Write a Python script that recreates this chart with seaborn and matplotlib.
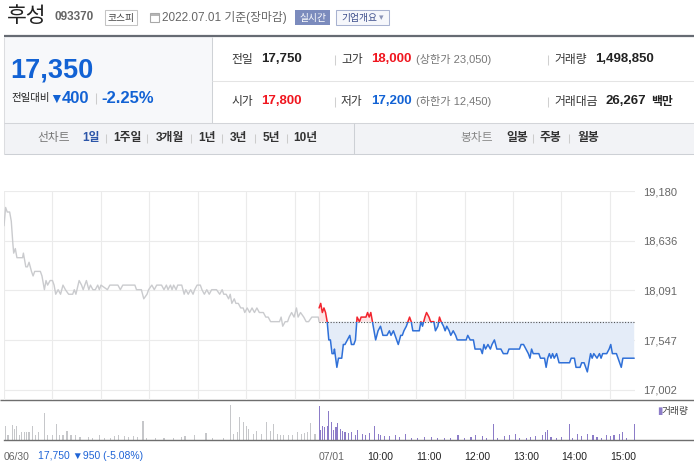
import numpy as np
import matplotlib
matplotlib.use("Agg")
import matplotlib.pyplot as plt
from matplotlib.patches import Rectangle
import seaborn as sns

# 06/30 intraday price (minutes since 09:00)
day1_min = [0, 2, 4, 7, 9, 11, 12, 14, 16, 23, 24, 27, 29, 31, 34, 36, 38, 45, 47, 50,
            52, 54, 57, 60, 62, 64, 67, 70, 73, 76, 80, 85, 87, 89, 93, 96, 98, 102, 105, 107,
            110, 113, 116, 118, 120, 128, 131, 141, 144, 147, 162, 164, 170, 173, 177, 179, 183, 186, 189, 195,
            198, 201, 203, 206, 208, 210, 213, 215, 220, 223, 225, 228, 231, 234, 236, 239, 243, 245, 248, 251,
            254, 257, 263, 267, 270, 272, 275, 278, 280, 282, 285, 287, 290, 293, 296, 298, 301, 304, 307, 310,
            313, 316, 321, 324, 327, 330, 336, 341, 343, 345, 348, 351, 353, 356, 359, 362, 364, 367, 371, 374,
            377, 381, 389, 390]
day1_price = [18800, 19000, 18950, 18950, 18850, 18600, 18500, 18550, 18450, 18450, 18500, 18350, 18350, 18400, 18300, 18250, 18300, 18300, 18250, 18100,
              18200, 18150, 18200, 18200, 18150, 18050, 18100, 18050, 18150, 18100, 18050, 18050, 18100, 18050, 18200, 18150, 18100, 18200, 18100, 18150,
              18100, 18100, 18150, 18100, 18150, 18100, 18150, 18150, 18100, 18150, 18150, 18100, 18100, 18000, 18050, 18100, 18150, 18100, 18150, 18150,
              18100, 18150, 18100, 18150, 18100, 18150, 18100, 18150, 18150, 18050, 18100, 18050, 18100, 18050, 18100, 18150, 18150, 18100, 18050, 18100,
              18050, 18100, 18100, 18050, 18100, 18050, 18050, 18000, 18050, 17950, 18000, 17950, 17950, 17900, 17900, 17850, 17900, 17850, 17900, 17850,
              17900, 17850, 17850, 17800, 17800, 17750, 17750, 17750, 17800, 17700, 17750, 17750, 17800, 17850, 17800, 17900, 17800, 17850, 17800, 17750,
              17750, 17800, 17800, 17750]

# 07/01 intraday price (minutes since 09:00)
day2_min = [0, 2, 4, 6, 8, 10, 12, 14, 16, 18, 19, 22, 24, 28, 30, 32, 35, 38, 40, 43,
            45, 47, 50, 52, 55, 58, 60, 62, 64, 66, 68, 70, 73, 76, 79, 84, 87, 89, 92, 94,
            96, 98, 101, 103, 105, 108, 110, 112, 114, 116, 124, 126, 128, 131, 133, 136, 138, 142, 144, 147,
            149, 151, 154, 156, 158, 161, 163, 166, 169, 171, 182, 184, 187, 191, 193, 200, 202, 204, 206, 209,
            212, 214, 217, 220, 225, 228, 233, 235, 248, 250, 253, 256, 259, 261, 263, 265, 272, 274, 279, 281,
            283, 285, 287, 289, 291, 294, 297, 310, 312, 316, 318, 323, 325, 328, 330, 332, 334, 336, 338, 340,
            344, 347, 349, 351, 356, 359, 361, 363, 368, 370, 372, 374, 376, 390]
day2_price = [17900, 17950, 17850, 17900, 17850, 17750, 17550, 17550, 17400, 17400, 17450, 17250, 17350, 17350, 17500, 17500, 17550, 17600, 17500, 17500,
              17550, 17800, 17750, 17800, 17800, 17800, 17850, 17800, 17850, 17750, 17650, 17550, 17650, 17700, 17600, 17600, 17650, 17600, 17650, 17600,
              17550, 17500, 17600, 17600, 17650, 17700, 17750, 17800, 17750, 17650, 17650, 17750, 17700, 17800, 17850, 17800, 17750, 17750, 17650, 17700,
              17800, 17750, 17700, 17650, 17700, 17650, 17600, 17650, 17600, 17550, 17550, 17600, 17550, 17550, 17450, 17450, 17400, 17500, 17450, 17500,
              17450, 17500, 17550, 17450, 17450, 17400, 17400, 17450, 17450, 17500, 17500, 17450, 17400, 17350, 17450, 17400, 17400, 17350, 17350, 17250,
              17350, 17400, 17350, 17400, 17350, 17400, 17300, 17300, 17350, 17350, 17250, 17250, 17300, 17300, 17250, 17200, 17300, 17400, 17350, 17400,
              17350, 17400, 17350, 17400, 17400, 17450, 17500, 17400, 17400, 17350, 17300, 17250, 17350, 17350]

prev_close = 17750

# volume (shares)
vol1_min = [2, 5, 10, 13, 16, 19, 22, 25, 28, 31, 35, 39, 43, 50, 54, 60, 65, 69, 73, 78,
            83, 88, 94, 105, 110, 118, 124, 132, 137, 142, 149, 154, 160, 165, 172, 176, 187, 198, 210, 220,
            224, 236, 250, 258, 272, 280, 284, 289, 292, 296, 300, 303, 309, 313, 319, 325, 330, 334, 338, 342,
            346, 352, 357, 363, 368, 372, 376, 379, 385]
vol1 = [18000, 6000, 18800, 14000, 18000, 6000, 10000, 10000, 10000, 10000, 18000, 6800, 10000, 34000, 6800, 6800, 20000, 6000, 6000, 10800,
        6800, 6000, 4000, 4000, 2800, 6800, 2800, 2800, 5200, 6000, 5200, 4000, 4800, 4000, 24000, 2000, 2800, 2000, 2800, 4000,
        5200, 6000, 8800, 2800, 2800, 44000, 8000, 10000, 29200, 22000, 18000, 14000, 8000, 10800, 8000, 22000, 10800, 20000, 8000, 6800,
        6000, 6800, 6000, 10000, 8000, 9200, 10000, 21200, 8000]
vol2_min = [0, 2, 4, 7, 10, 12, 15, 18, 21, 23, 26, 29, 32, 36, 40, 45, 48, 54, 57, 62,
            69, 73, 76, 81, 87, 95, 100, 107, 114, 122, 130, 139, 147, 155, 163, 172, 180, 188, 194, 202,
            207, 216, 221, 229, 236, 243, 248, 257, 262, 268, 276, 280, 283, 287, 294, 300, 310, 314, 320, 325,
            332, 339, 344, 350, 356, 361, 365, 372, 376, 380, 390]
vol2 = [42000, 12800, 18000, 16000, 18000, 36000, 22000, 12000, 16000, 20800, 13200, 10800, 10000, 9200, 10000, 6800, 12000, 8000, 6800, 9200,
        18000, 8000, 6000, 5200, 4800, 6000, 4000, 8000, 2800, 2800, 4000, 3200, 2800, 2000, 2000, 6000, 2800, 4000, 6800, 5200,
        2000, 20000, 2800, 5200, 6000, 8000, 2000, 2800, 4000, 5200, 6800, 10000, 12000, 4000, 2800, 4000, 19600, 2800, 8000, 5200,
        8000, 6000, 4000, 2800, 6000, 5200, 6000, 8000, 10000, 2800, 19600]

y_ticks = [17002, 17547, 18091, 18636, 19180]
time_labels = ["07/01", "10:00", "11:00", "12:00", "13:00", "14:00", "15:00"]

sns.set_style("white")
plt.rcParams['font.family'] = ['Liberation Sans', 'Noto Sans CJK KR', 'DejaVu Sans']

W, H = 694, 475
fig = plt.figure(figsize=(W / 100, H / 100), dpi=100)

# page layer in pixel coordinates
bg = fig.add_axes([0, 0, 1, 1])
bg.set_xlim(0, W)
bg.set_ylim(H, 0)
bg.set_axis_off()


def box(x0, y0, x1, y1, fc='none', ec='none', lw=0.75):
    bg.add_patch(Rectangle((x0, y0), x1 - x0, y1 - y0, facecolor=fc, edgecolor=ec, linewidth=lw))


def hl(y, x0, x1, c, lw=0.75):
    bg.plot([x0, x1], [y, y], color=c, lw=lw, solid_capstyle='butt')


def vl(x, y0, y1, c, lw=0.75):
    bg.plot([x, x], [y0, y1], color=c, lw=lw, solid_capstyle='butt')


def txt(x, y, s, fs, c='#333333', bold=False, ha='left'):
    bg.text(x, y, s, fontsize=fs, color=c, ha=ha, va='center',
            fontweight='bold' if bold else 'normal')


blue = '#1262d4'
red = '#f0161f'

# title row
txt(7, 16, "후성", 15.5, '#222222')
txt(55, 17.5, "093370", 8.5, '#666666', bold=True)
box(105, 10, 137, 25, fc='white', ec='#c4c4c4')
txt(121, 17.5, "코스피", 7, '#444444', ha='center')
box(150.5, 12.5, 159, 22, ec='#a8a8a8', lw=0.8)
hl(14.5, 150.5, 159, '#a8a8a8', lw=1.2)
txt(162, 17.5, "2022.07.01 기준(장마감)", 8.5, '#666666')
box(295, 10, 330, 25, fc='#7b8bbd')
txt(312.5, 17.5, "실시간", 7, 'white', ha='center')
box(336, 10, 389, 25, fc='#f6f7fb', ec='#a8b2d0')
txt(341, 17.5, "기업개요", 7, '#3b4c8a')
txt(379, 17.5, "▾", 6.5, '#8a94b8')
hl(35.5, 4, 694, '#666b73', lw=1.6)

# price box
box(4, 37, 212, 123, fc='#f7f8fa')
vl(212, 37, 123, '#cfd2d6')
vl(4.3, 37, 154, '#dcdde0')
txt(10, 70, "17,350", 19.5, blue, bold=True)
txt(11, 98.5, "전일대비", 7.5, '#222222')
txt(49, 98.5, "▼", 10, blue)
txt(62, 98.5, "400", 12, blue, bold=True)
vl(96, 93, 104, '#cccccc')
txt(101, 98.5, "-2.25%", 12, blue, bold=True)

# stats table
hl(80.5, 212, 694, '#e4e4e4')
for yy, rows in [(59.5, [("전일", "17,750", '#222222', 231, 261), ("고가", "18,000", red, 341, 371), ("거래량", "1,498,850", '#222222', 554, 595)]),
                 (101.5, [("시가", "17,800", red, 231, 261), ("저가", "17,200", blue, 341, 371), ("거래대금", "26,267", '#222222', 554, 606)])]:
    for lab, val, col, xl, xv in rows:
        txt(xl, yy, lab, 8.5, '#333333')
        txt(xv, yy, val, 9.5, col, bold=True)
    vl(335, yy - 5, yy + 5, '#d0d0d0')
    vl(548, yy - 5, yy + 5, '#d0d0d0')
txt(416, 59.5, "(상한가 23,050)", 8, '#777777')
txt(416, 101.5, "(하한가 12,450)", 8, '#777777')
txt(651, 101.5, "백만", 8.5, '#222222', bold=True)

# period tabs
box(4, 123, 694, 154, fc='#f2f3f6')
hl(123, 4, 694, '#d3d5d9')
hl(154, 4, 694, '#cdd0d5')
vl(354.5, 123, 154, '#cdd0d5')
txt(37, 138.5, "선차트", 8.5, '#777777')
tabs = [("1일", 82), ("1주일", 113), ("3개월", 156), ("1년", 198), ("3년", 230), ("5년", 263), ("10년", 293)]
for i, (lab, xx) in enumerate(tabs):
    txt(xx, 138.5, lab, 8.5, '#2c55a8' if i == 0 else '#333333', bold=True)
for xx in [106, 147, 191, 222, 255, 287]:
    vl(xx, 134, 143, '#cccccc')
txt(460, 138.5, "봉차트", 8.5, '#888888')
for lab, xx in [("일봉", 506), ("주봉", 540), ("월봉", 577)]:
    txt(xx, 138.5, lab, 8.5, '#333333', bold=True)
for xx in [533, 569]:
    vl(xx, 134, 143, '#cccccc')

# main price chart
ax = fig.add_axes([4 / W, 1 - 400 / H, 631 / W, 209 / H])
ax.patch.set_alpha(0)
t1 = np.array(day1_min)
p1 = np.array(day1_price)
t2 = np.array(day2_min) + 390
p2 = np.array(day2_price)

ax.fill_between(t2, p2, prev_close, where=p2 <= prev_close, interpolate=True, color='#e4ecf8', lw=0)
ax.fill_between(t2, p2, prev_close, where=p2 >= prev_close, interpolate=True, color='#fde4e4', lw=0)
ax.hlines(prev_close, 390, 781, colors='#555555', linestyles=(0, (1, 1.5)), lw=0.8)

sns.lineplot(x=t1, y=p1, ax=ax, color='#cacbce', lw=1.0, estimator=None)
sns.lineplot(x=t2, y=p2, ax=ax, color='#2f70d8', lw=1.1, estimator=None)
ax.lines[-1].set_clip_path(Rectangle((380, 15000), 420, prev_close - 15000, transform=ax.transData))
sns.lineplot(x=t2, y=p2, ax=ax, color='#f2252e', lw=1.1, estimator=None)
ax.lines[-1].set_clip_path(Rectangle((380, prev_close), 420, 5000, transform=ax.transData))

ax.set_xlim(0, 781)
ax.set_ylim(16892.5, 19180)
ax.set_xticks([0, 60, 120, 180, 240, 300, 360, 390, 450, 510, 570, 630, 690, 750])
ax.set_xticklabels([])
ax.yaxis.tick_right()
ax.set_yticks(y_ticks)
ax.set_yticklabels([f"{v:,}" for v in y_ticks])
ax.tick_params(axis='both', length=0)
ax.tick_params(axis='y', pad=6, labelsize=8, labelcolor='#666666')
ax.grid(True, color='#ebebeb', lw=0.8)
ax.set_axisbelow(True)
for s in ax.spines.values():
    s.set_visible(False)
ax.set_xlabel("")
ax.set_ylabel("")

hl(400, 0, 694, '#6e6e6e', lw=1.0)

# volume panel
vax = fig.add_axes([4 / W, 1 - 440 / H, 690 / W, 40 / H])
vax.patch.set_alpha(0)
vax.bar(np.array(vol1_min), vol1, width=1.4, color='#c6c7ca', lw=0)
vax.bar(np.array(vol2_min) + 390, vol2, width=1.4, color='#8c7cc8', lw=0)
vax.set_xlim(0, 781 * 690 / 631)
vax.set_ylim(0, 50000)
vax.set_yticks([])
for s in ['top', 'left', 'right']:
    vax.spines[s].set_visible(False)
vax.spines['bottom'].set_color('#6e6e6e')
vax.spines['bottom'].set_linewidth(1.0)
vax.set_xticks([0, 390, 450, 510, 570, 630, 690, 750])
vax.set_xticklabels(["06/30"] + time_labels, ha='left')
vax.tick_params(axis='x', direction='out', length=5, width=0.8, color='#555555',
                pad=4, labelsize=7.5, labelcolor='#222222')
for lbl in vax.get_xticklabels()[:2]:
    lbl.set_color('#666666')

txt(38, 456, "17,750 ▼950 (-5.08%)", 7.5, '#1f64d6')
txt(657, 411, "▮", 7, '#8c7cc8')
txt(662, 411, "거래량", 7, '#444444')

fig.savefig("out.png", dpi=100)
